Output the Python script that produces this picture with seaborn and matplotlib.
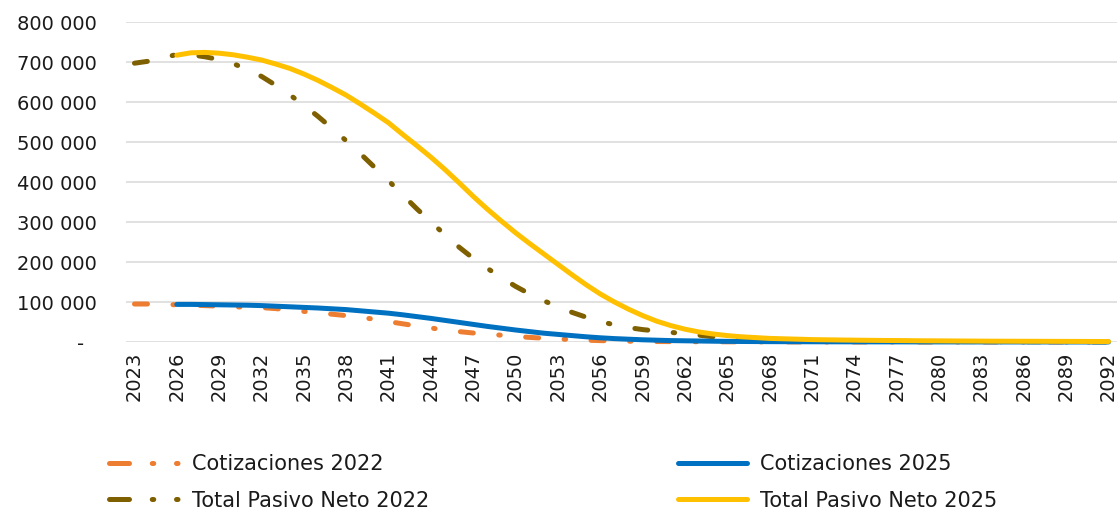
import matplotlib
matplotlib.use("Agg")
import matplotlib.pyplot as plt
from matplotlib.lines import Line2D
from matplotlib.ticker import FuncFormatter
import pandas as pd
import seaborn as sns

# Projection years
years_2022 = list(range(2023, 2093))
years_2025 = list(range(2026, 2093))

# Values in thousands
cotizaciones_2022 = [
    95, 95, 94, 93, 92, 91, 89.5, 88, 87, 86,
    83.5, 80, 76.5, 73, 69.5, 66, 61.5, 57, 51, 45.5,
    40, 35, 30, 26, 22.5, 19.5, 17, 14, 11.5, 9.5,
    7.5, 6, 4.5, 3.5, 2.5, 2, 1.5, 1.2, 1, 0.8,
    0.7, 0.6, 0.5, 0.4, 0.35, 0.3, 0.25, 0.2, 0.2, 0.15,
    0.15, 0.1, 0.1, 0.1, 0.1, 0.1, 0.05, 0.05, 0.05, 0.05,
    0.05, 0, 0, 0, 0, 0, 0, 0, 0, 0,
]
pasivo_neto_2022 = [
    697, 702, 710, 719, 718, 713, 706, 696, 681, 664,
    642, 618, 592, 564, 534, 503, 471, 437, 403, 368,
    333, 300, 268, 237, 209, 184, 161, 139, 120, 103,
    88, 74, 62, 51, 43, 36, 31, 27.5, 24, 21,
    17, 13, 10, 8, 6, 5, 4, 3.5, 3, 2.7,
    2.4, 2.2, 2, 1.8, 1.6, 1.5, 1.4, 1.3, 1.2, 1.1,
    1.0, 0.9, 0.8, 0.7, 0.6, 0.5, 0.4, 0.3, 0.2, 0.1,
]
cotizaciones_2025 = [
    94, 94, 93.5, 93, 92.5, 92, 91, 89.5, 88, 86.5,
    85, 83, 81, 78, 75, 72, 68, 63.5, 59, 54,
    49, 44, 39, 34.5, 30, 26, 22, 19, 16, 13,
    10.5, 8.5, 7, 5.5, 4.5, 3.5, 3, 2.5, 2, 1.6,
    1.3, 1.1, 0.9, 0.8, 0.7, 0.6, 0.5, 0.45, 0.4, 0.35,
    0.3, 0.3, 0.25, 0.2, 0.2, 0.2, 0.15, 0.15, 0.1, 0.1,
    0.1, 0.1, 0.1, 0.05, 0.05, 0.05, 0.05,
]
pasivo_neto_2025 = [
    717, 723, 724, 722, 718, 712, 705, 695, 684, 670,
    654, 636, 617, 595, 572, 548, 519, 491, 462, 431,
    398, 364, 332, 302, 273, 246, 220, 194, 168, 143,
    120, 100, 82, 66, 52, 41, 32, 25, 20, 16,
    13, 11, 9, 8, 7, 6, 5.5, 5, 4.6, 4.2,
    3.9, 3.6, 3.3, 3.0, 2.8, 2.6, 2.4, 2.2, 2.0, 1.9,
    1.8, 1.7, 1.6, 1.5, 1.4, 1.3, 1.2,
]

series_names = [
    "Cotizaciones 2022",
    "Total Pasivo Neto 2022",
    "Cotizaciones 2025",
    "Total Pasivo Neto 2025",
]
series_colors = ["#ED7D31", "#7F6000", "#0070C0", "#FFC000"]

frames = []
for name, yrs, vals in zip(
    series_names,
    [years_2022, years_2022, years_2025, years_2025],
    [cotizaciones_2022, pasivo_neto_2022, cotizaciones_2025, pasivo_neto_2025],
):
    frames.append(pd.DataFrame({"Año": yrs, "Valor": [v * 1000 for v in vals], "Serie": name}))
data = pd.concat(frames, ignore_index=True)

sns.set_theme(style="white")
plt.rcParams["font.family"] = ["DejaVu Sans"]
text_color = "#1a1a1a"

fig = plt.figure(figsize=(11.2, 5.14), dpi=100)
W, H = 1120, 514
ax = fig.add_axes([126 / W, 1 - 342 / H, (1117 - 126) / W, 320 / H])

LW = 3.6
dash_dot = (0, (2.6, 5.1, 0.3, 5.1))
styles = [dash_dot, dash_dot, "-", "-"]

for name, color, ls in zip(series_names, series_colors, styles):
    sub = data[data["Serie"] == name]
    sns.lineplot(
        data=sub, x="Año", y="Valor", ax=ax, color=color, linewidth=LW,
        linestyle=ls, dash_capstyle="round", solid_capstyle="round",
        solid_joinstyle="round", clip_on=False, legend=False,
    )

ax.set_xlim(2022.4, 2092.6)
ax.set_ylim(0, 800000)
ax.set_yticks(range(0, 800001, 100000))
ax.set_xticks(range(2023, 2093, 3))
ax.yaxis.set_major_formatter(
    FuncFormatter(lambda v, p: "-  " if v == 0 else f"{v:,.0f}".replace(",", " "))
)
ax.tick_params(axis="x", labelrotation=90, length=0, pad=7, labelsize=14, colors=text_color)
ax.tick_params(axis="y", length=0, pad=21, labelsize=14, colors=text_color)
ax.set_xlabel("")
ax.set_ylabel("")
ax.yaxis.grid(True, color="#d9d9d9", linewidth=1.1)
ax.xaxis.grid(False)
ax.set_axisbelow(True)
for s in ax.spines.values():
    s.set_visible(False)

# Legend keys: dash followed by two dots for the 2022 series
legend_dash = (0, (4.0, 4.55, 0.3, 4.55, 0.3, 30))
handles = [
    Line2D([], [], color=series_colors[0], lw=LW, linestyle=legend_dash, dash_capstyle="round"),
    Line2D([], [], color=series_colors[1], lw=LW, linestyle=legend_dash, dash_capstyle="round"),
    Line2D([], [], color=series_colors[2], lw=LW, solid_capstyle="round"),
    Line2D([], [], color=series_colors[3], lw=LW, solid_capstyle="round"),
]
LFS = 15
fs_px = LFS * 100 / 72
common = dict(
    frameon=False, fontsize=LFS, handlelength=69 / fs_px, handletextpad=14 / fs_px,
    labelspacing=0.78, borderpad=0, borderaxespad=0, loc="center left",
    labelcolor=text_color,
)
leg1 = fig.legend(handles[:2], series_names[:2],
                  bbox_to_anchor=(108.5 / W, 1 - 482.5 / H), **common)
leg2 = fig.legend(handles[2:], series_names[2:],
                  bbox_to_anchor=(677.5 / W, 1 - 482.5 / H), **common)

fig.savefig("out.png", dpi=100)
